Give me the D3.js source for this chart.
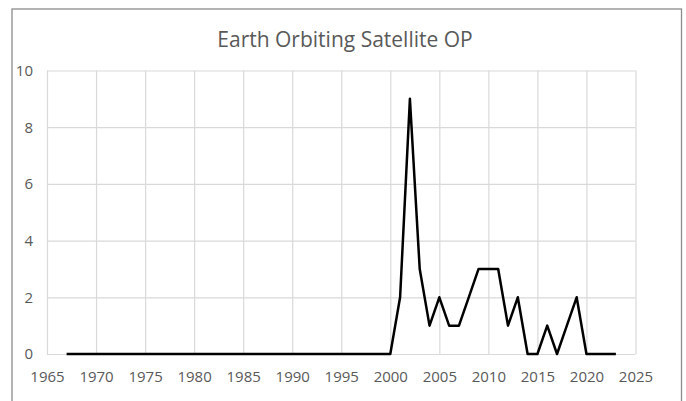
<!DOCTYPE html>
<html>
<head>
<meta charset="utf-8">
<script src="https://cdn.jsdelivr.net/npm/d3@7"></script>
<style>
  body { margin: 0; background: #fff; }
  svg { display: block; font-family: "Open Sans", sans-serif; }
</style>
</head>
<body>
<svg id="chart" width="686" height="401"></svg>
<script>
// data
var years = [1967, 1968, 1969, 1970, 1971, 1972, 1973, 1974, 1975, 1976,
  1977, 1978, 1979, 1980, 1981, 1982, 1983, 1984, 1985, 1986,
  1987, 1988, 1989, 1990, 1991, 1992, 1993, 1994, 1995, 1996,
  1997, 1998, 1999, 2000, 2001, 2002, 2003, 2004, 2005, 2006,
  2007, 2008, 2009, 2010, 2011, 2012, 2013, 2014, 2015, 2016,
  2017, 2018, 2019, 2020, 2021, 2022, 2023];
var counts = [0, 0, 0, 0, 0, 0, 0, 0, 0, 0,
  0, 0, 0, 0, 0, 0, 0, 0, 0, 0,
  0, 0, 0, 0, 0, 0, 0, 0, 0, 0,
  0, 0, 0, 0, 2, 9, 3, 1, 2, 1,
  1, 2, 3, 3, 3, 1, 2, 0, 0, 1,
  0, 1, 2, 0, 0, 0, 0];
var xTicks = [1965, 1970, 1975, 1980, 1985, 1990, 1995, 2000, 2005, 2010, 2015, 2020, 2025];
var yTicks = [0, 2, 4, 6, 8, 10];
var title = "Earth Orbiting Satellite OP";

var data = years.map(function (y, i) {
  return { year: y, value: counts[i] };
});

let svg = d3.select("svg#chart");

// outer chart border
svg.append("rect")
  .attr("x", 12).attr("y", 9)
  .attr("width", 669.5).attr("height", 420)
  .attr("fill", "none")
  .attr("stroke", "#8c8c8c")
  .attr("stroke-width", 1.3);

let xScale = d3.scaleLinear().domain([1965, 2025]).range([47, 635.5]),
  yScale = d3.scaleLinear().domain([0, 10]).range([354, 70.5]);

let g = svg.append("g");

// grids
g.append("g")
  .attr("class", "x-grid")
  .attr("transform", "translate(0,354)")
  .call(d3.axisBottom(xScale).tickValues(xTicks).tickSize(-(354 - 70.5)).tickFormat(""))
  .call(function (a) {
    a.select(".domain").remove();
    a.selectAll("line").attr("stroke", "#d9d9d9").attr("stroke-width", 1.2);
  });

g.append("g")
  .attr("class", "y-grid")
  .attr("transform", "translate(47,0)")
  .call(d3.axisLeft(yScale).tickValues(yTicks).tickSize(-(635.5 - 47)).tickFormat(""))
  .call(function (a) {
    a.select(".domain").remove();
    a.selectAll("line").attr("stroke", "#d9d9d9").attr("stroke-width", 1.2);
  });

// tick labels
g.append("g")
  .attr("transform", "translate(0,354)")
  .call(d3.axisBottom(xScale).tickValues(xTicks).tickSize(0).tickPadding(17).tickFormat(d3.format("d")))
  .call(function (a) {
    a.select(".domain").remove();
    a.selectAll("text").attr("fill", "#595959").style("font-size", "15px")
      .style("font-family", "'Open Sans', sans-serif");
  });

g.append("g")
  .attr("transform", "translate(47,0)")
  .call(d3.axisLeft(yScale).tickValues(yTicks).tickSize(0).tickPadding(14))
  .call(function (a) {
    a.select(".domain").remove();
    a.selectAll("text").attr("fill", "#595959").style("font-size", "15px")
      .style("font-family", "'Open Sans', sans-serif");
  });

// line
let line = d3.line()
  .x(function (d) { return xScale(d.year); })
  .y(function (d) { return yScale(d.value); });

g.append("path")
  .datum(data)
  .attr("fill", "none")
  .attr("stroke", "#000")
  .attr("stroke-width", 2.5)
  .attr("stroke-linejoin", "round")
  .attr("d", line);

// title
svg.append("text")
  .attr("x", 345)
  .attr("y", 47)
  .attr("text-anchor", "middle")
  .attr("fill", "#595959")
  .style("font-size", "21px")
  .text(title);
</script>
</body>
</html>
